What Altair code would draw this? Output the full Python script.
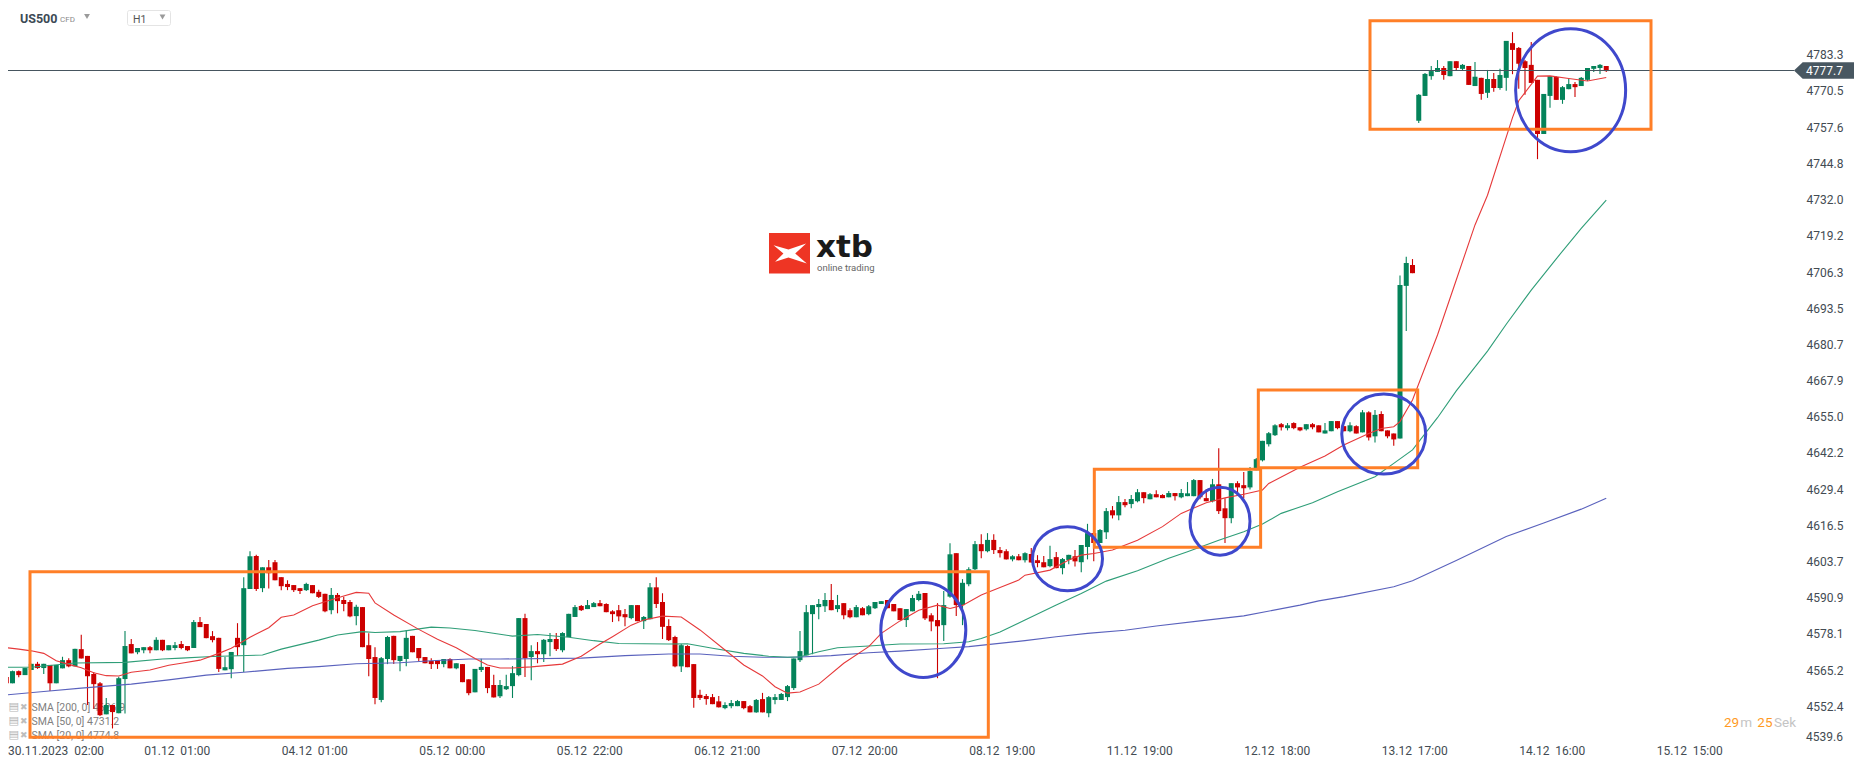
import altair as alt
import pandas as pd

# ---- candles (open, high, low, close), one list per 22-bar stretch of the H1 chart
bars_a = [
 (4562.8,4563.5,4559.9,4560.6),(4560.6,4565.1,4560.6,4564.9),(4564.9,4565.1,4562.7,4563.5),(4563.5,4566.0,4563.5,4566.0),
 (4565.3,4567.5,4565.3,4567.5),(4567.5,4568.2,4565.7,4566.0),(4566.0,4567.5,4563.9,4567.5),(4567.1,4567.1,4557.9,4560.6),
 (4560.6,4567.1,4560.6,4567.1),(4565.9,4570.0,4565.9,4568.8),(4568.8,4569.5,4566.3,4566.6),(4566.6,4572.8,4566.6,4572.8),
 (4572.7,4577.8,4569.4,4569.4),(4570.3,4570.3,4552.9,4563.1),(4563.9,4564.6,4551.6,4560.3),(4560.6,4561.1,4549.0,4549.3),
 (4549.6,4555.4,4549.6,4552.9),(4552.9,4552.9,4544.6,4550.4),(4550.0,4562.9,4550.0,4562.4),(4562.1,4579.1,4549.9,4573.8),
 (4574.5,4576.3,4571.2,4571.2),(4571.6,4573.1,4570.9,4573.1)]
bars_b = [
 (4572.3,4573.4,4571.2,4573.4),(4573.4,4573.8,4571.2,4572.3),(4572.3,4576.9,4572.3,4576.0),(4576.0,4576.0,4572.0,4572.3),
 (4572.3,4574.1,4572.3,4574.1),(4573.1,4575.2,4572.3,4574.1),(4574.5,4575.6,4572.7,4573.1),(4573.8,4573.8,4572.0,4572.3),
 (4573.1,4583.0,4573.1,4582.3),(4582.3,4584.1,4580.5,4580.5),(4581.6,4581.6,4576.6,4576.6),(4577.3,4579.1,4575.1,4575.9),
 (4576.7,4576.7,4564.6,4565.7),(4565.2,4569.9,4565.2,4566.3),(4565.6,4571.7,4562.4,4571.7),(4576.7,4581.9,4570.3,4573.4),
 (4574.1,4598.2,4564.6,4594.3),(4594.0,4607.4,4594.0,4605.6),(4605.7,4606.1,4593.3,4594.0),(4594.3,4601.7,4592.9,4601.7),
 (4601.7,4604.3,4594.2,4599.6),(4603.5,4604.3,4597.1,4597.1)]
bars_c = [
 (4598.2,4598.2,4593.6,4595.0),(4595.8,4597.1,4593.6,4594.7),(4595.4,4595.4,4592.9,4593.6),(4594.3,4594.3,4592.2,4593.3),
 (4593.6,4596.2,4593.3,4595.8),(4595.4,4595.4,4592.5,4592.5),(4593.0,4593.7,4590.8,4591.2),(4592.3,4592.3,4585.8,4586.1),
 (4586.5,4594.4,4585.1,4591.9),(4591.9,4592.6,4585.4,4589.7),(4590.1,4591.3,4586.1,4588.7),(4589.4,4590.1,4584.0,4584.3),
 (4584.4,4588.4,4581.2,4587.7),(4587.6,4587.6,4573.4,4573.4),(4574.1,4578.3,4563.1,4569.2),(4569.9,4573.4,4553.2,4555.4),
 (4554.7,4569.9,4553.9,4569.5),(4569.2,4577.4,4567.4,4577.0),(4577.4,4577.4,4567.4,4568.8),(4568.5,4570.3,4564.9,4570.3),
 (4569.2,4579.5,4566.6,4576.7),(4577.4,4577.4,4571.6,4571.6)]
bars_d = [
 (4573.1,4573.1,4568.5,4569.5),(4569.9,4569.9,4567.7,4567.7),(4568.5,4569.5,4565.7,4567.4),(4568.8,4568.8,4565.7,4567.4),
 (4567.4,4569.2,4566.3,4569.2),(4569.2,4569.5,4565.9,4565.9),(4565.9,4567.7,4565.6,4567.7),(4567.4,4567.4,4561.0,4561.0),
 (4562.0,4562.0,4556.4,4557.1),(4557.4,4565.7,4557.4,4565.7),(4565.3,4569.3,4564.6,4566.4),(4566.4,4566.4,4557.1,4558.9),
 (4560.0,4563.6,4555.6,4555.6),(4556.0,4561.8,4555.4,4560.0),(4558.5,4563.6,4558.2,4559.6),(4559.6,4566.7,4555.4,4564.2),
 (4563.5,4583.7,4563.1,4583.7),(4583.7,4585.2,4562.8,4569.5),(4569.9,4574.1,4561.7,4572.0),(4572.0,4575.2,4567.7,4570.9),
 (4570.9,4576.3,4568.1,4576.0),(4575.2,4578.4,4570.2,4576.3)]
bars_e = [
 (4576.3,4578.4,4572.0,4572.7),(4572.3,4578.7,4571.6,4578.4),(4577.0,4585.2,4577.0,4585.2),(4584.1,4588.3,4584.1,4587.6),
 (4588.0,4588.3,4586.2,4586.5),(4586.9,4590.1,4586.9,4588.3),(4587.6,4589.4,4587.6,4589.0),(4589.0,4590.1,4587.9,4587.9),
 (4588.7,4589.0,4585.8,4585.8),(4586.1,4586.5,4582.3,4585.1),(4586.5,4588.3,4582.6,4584.3),(4585.1,4586.9,4580.8,4584.0),
 (4583.7,4588.3,4583.3,4588.3),(4588.3,4588.3,4582.6,4582.6),(4582.6,4584.4,4579.8,4584.1),(4583.3,4596.1,4583.3,4594.6),
 (4594.6,4598.2,4587.3,4588.7),(4589.4,4592.5,4576.3,4580.6),(4580.9,4583.3,4575.6,4575.9),(4577.0,4577.4,4566.3,4566.6),
 (4566.6,4574.5,4564.6,4574.1),(4573.8,4574.1,4566.3,4566.3)]
bars_f = [
 (4567.4,4567.4,4551.9,4555.4),(4556.5,4558.3,4554.7,4555.4),(4556.1,4556.8,4553.0,4555.0),(4555.7,4556.8,4553.2,4553.2),
 (4554.2,4556.1,4552.0,4552.1),(4551.8,4553.9,4551.4,4552.9),(4552.5,4554.7,4551.8,4553.6),(4552.5,4554.7,4552.5,4554.3),
 (4554.3,4554.3,4551.4,4551.8),(4552.5,4552.9,4550.3,4550.3),(4550.3,4555.0,4550.2,4554.7),(4555.0,4557.2,4550.3,4550.3),
 (4550.0,4556.1,4548.6,4555.7),(4554.7,4556.8,4553.2,4555.7),(4554.7,4557.2,4554.7,4556.8),(4555.7,4560.0,4554.3,4559.6),
 (4558.9,4569.4,4558.2,4569.4),(4568.8,4579.1,4568.1,4572.0),(4570.5,4588.3,4570.5,4585.8),(4585.1,4588.3,4570.9,4588.3),
 (4587.6,4590.5,4583.3,4588.7),(4587.9,4592.6,4585.9,4590.1)]
bars_g = [
 (4590.1,4595.8,4586.5,4586.5),(4586.9,4591.9,4585.8,4588.3),(4589.0,4589.0,4583.3,4584.7),(4586.5,4587.2,4583.6,4584.0),
 (4584.0,4588.3,4584.0,4587.6),(4587.2,4587.6,4584.7,4584.7),(4585.1,4588.3,4584.7,4587.9),(4587.2,4589.4,4586.9,4589.4),
 (4588.7,4589.7,4588.7,4589.7),(4590.1,4590.1,4587.2,4587.2),(4588.7,4588.7,4586.1,4586.1),(4587.2,4587.2,4583.0,4583.0),
 (4583.0,4586.9,4580.5,4586.9),(4586.1,4591.9,4586.1,4590.8),(4590.1,4593.3,4589.7,4592.3),(4592.6,4592.6,4583.0,4583.6),
 (4584.7,4585.4,4579.0,4582.5),(4583.0,4589.0,4562.4,4580.8),(4581.2,4593.3,4575.6,4588.3),(4591.3,4610.2,4590.9,4606.3),
 (4606.7,4606.7,4584.4,4588.3),(4588.3,4597.5,4581.2,4596.2)]
bars_h = [
 (4595.7,4601.7,4595.0,4601.0),(4601.0,4611.0,4600.7,4609.9),(4609.9,4613.4,4604.9,4607.4),(4607.4,4613.8,4607.0,4611.4),
 (4611.4,4613.4,4606.4,4607.8),(4607.8,4608.9,4605.2,4606.7),(4607.4,4608.1,4604.5,4604.5),(4604.5,4606.0,4603.8,4605.6),
 (4605.6,4606.4,4604.2,4604.2),(4604.2,4607.0,4603.4,4606.7),(4606.4,4608.5,4603.4,4603.4),(4604.2,4606.0,4601.7,4603.2),
 (4603.5,4605.7,4601.7,4601.7),(4602.1,4609.3,4601.7,4604.6),(4605.3,4607.1,4601.4,4601.4),(4601.4,4605.0,4599.2,4604.6),
 (4604.3,4606.1,4602.8,4606.1),(4605.6,4607.8,4602.0,4603.8),(4603.5,4609.6,4599.9,4609.6),(4608.9,4617.1,4604.5,4613.8),
 (4613.8,4613.8,4603.8,4610.3),(4610.3,4615.3,4610.3,4614.9)]
bars_i = [
 (4614.1,4622.7,4611.7,4621.6),(4621.9,4623.4,4619.0,4620.1),(4620.1,4627.0,4618.4,4624.8),(4624.8,4625.9,4623.0,4623.7),
 (4624.1,4627.3,4622.6,4625.9),(4625.1,4629.4,4624.7,4628.3),(4628.3,4628.3,4624.4,4626.2),(4625.8,4628.0,4625.8,4627.6),
 (4627.6,4629.0,4626.5,4626.5),(4627.3,4627.6,4626.2,4626.2),(4626.5,4628.7,4626.5,4628.0),(4628.0,4628.0,4625.4,4626.9),
 (4626.5,4629.4,4626.2,4628.0),(4626.9,4631.9,4626.9,4627.9),(4626.9,4633.0,4626.9,4632.6),(4632.6,4632.6,4625.8,4626.5),
 (4626.2,4629.4,4625.1,4625.1),(4625.1,4633.0,4624.7,4631.1),(4631.1,4643.9,4620.6,4621.6),(4622.6,4626.2,4610.3,4619.1),
 (4619.1,4631.5,4617.3,4631.5),(4631.5,4632.2,4627.9,4630.0)]
bars_j = [
 (4630.8,4635.5,4626.2,4629.7),(4630.0,4637.2,4629.3,4635.8),(4636.1,4640.4,4636.1,4640.0),(4639.6,4646.5,4639.2,4646.5),
 (4645.3,4649.6,4644.5,4649.2),(4648.5,4652.4,4648.2,4652.0),(4652.4,4652.8,4650.2,4651.3),(4651.0,4652.8,4650.2,4652.0),
 (4652.8,4653.1,4650.6,4651.0),(4651.3,4651.3,4649.9,4650.2),(4650.6,4652.4,4650.2,4652.4),(4652.4,4652.8,4650.6,4651.3),
 (4652.0,4652.0,4649.5,4649.5),(4649.1,4652.8,4649.1,4650.2),(4649.9,4653.5,4649.9,4653.5),(4653.5,4653.5,4650.6,4651.0),
 (4651.7,4651.7,4649.9,4649.9),(4649.9,4653.1,4649.5,4652.0),(4651.7,4652.0,4649.1,4649.1),(4649.5,4657.4,4649.5,4656.6),
 (4656.6,4657.0,4646.6,4647.7),(4648.1,4657.4,4645.9,4655.7)]
bars_k = [
 (4656.0,4657.0,4649.9,4649.9),(4650.2,4650.2,4647.4,4648.1),(4649.1,4649.1,4644.8,4647.0),(4647.3,4705.1,4647.3,4701.7),
 (4701.4,4711.7,4685.4,4709.5),(4708.8,4710.9,4705.9,4705.9),(4759.9,4769.4,4759.1,4769.1),(4768.7,4776.8,4768.7,4776.5),
 (4775.7,4779.3,4774.4,4777.5),(4777.2,4781.4,4777.2,4778.6),(4778.6,4779.3,4774.4,4776.1),(4775.7,4781.0,4775.7,4781.0),
 (4781.0,4781.0,4777.9,4778.6),(4778.3,4780.0,4777.9,4779.7),(4779.3,4779.3,4772.6,4772.6),(4772.2,4780.7,4772.2,4775.5),
 (4775.1,4775.1,4767.3,4769.4),(4769.8,4777.9,4768.0,4774.7),(4774.7,4776.8,4770.2,4771.5),(4771.5,4778.3,4770.9,4776.1),
 (4775.1,4788.2,4770.5,4788.2),(4787.4,4791.3,4776.4,4785.0)]
bars_l = [
 (4785.7,4786.0,4771.2,4780.1),(4781.0,4781.4,4769.1,4778.6),(4779.7,4787.8,4773.3,4773.3),(4774.4,4774.4,4746.3,4755.2),
 (4755.2,4769.4,4755.2,4769.4),(4768.7,4775.7,4764.5,4775.7),(4775.4,4775.7,4767.3,4767.3),(4767.3,4772.2,4765.9,4771.8),
 (4771.1,4774.7,4771.1,4772.9),(4772.9,4773.6,4768.3,4771.8),(4772.2,4775.4,4772.2,4775.1),(4774.4,4778.6,4774.0,4778.6),
 (4778.3,4779.3,4777.2,4779.3),(4778.6,4780.0,4776.5,4779.7),(4779.3,4779.3,4777.2,4777.5)]

# ---- moving averages, read at the listed bars
sma20_bar = [0,2,4,6,8,10,12,14,16,18,20,23,26,28,31,34,36,39,42,44,46,49,51,54,56,58,59,62,66,69,72,75,77,79,81,84,89,92,95,97,100,102,105,108,111,115,118,121,123,125,127,130,134,138,140,143,146,149,151,153,156,159,162,163,167,170,172,174,177,181,185,188,192,195,198,201,202,207,211,214,218,220,222,223,225,229,232,235,237,241,242,244,245,247,250,253,256]
sma20_val = [4573.2,4572.7,4572.1,4571.2,4568.6,4567.3,4566.1,4564.3,4563.3,4563.2,4564.5,4565.3,4567.0,4567.7,4568.8,4571.2,4573.0,4576.9,4580.3,4584.0,4584.8,4588.1,4589.5,4591.5,4592.8,4592.5,4589.1,4584.8,4579.7,4576.2,4573.2,4569.4,4567.1,4566.0,4566.0,4566.4,4567.4,4570.2,4574.5,4577.1,4581.2,4583.0,4584.4,4584.1,4579.5,4572.4,4567.1,4563.2,4559.4,4557.1,4557.5,4560.3,4567.7,4573.6,4578.3,4582.7,4586.5,4588.3,4587.1,4588.2,4591.9,4594.5,4597.2,4598.9,4600.7,4604.3,4606.0,4606.6,4607.8,4611.3,4616.1,4620.8,4624.6,4626.3,4627.6,4629.1,4631.4,4637.1,4641.1,4645.0,4649.1,4650.9,4651.5,4653.3,4661.0,4684.0,4703.5,4723.0,4733.5,4761.0,4767.0,4772.8,4775.7,4775.8,4774.9,4774.0,4775.2]
sma50_bar = [0,4,11,19,25,28,33,41,44,50,53,57,59,63,68,71,75,79,81,85,90,94,98,106,109,113,118,122,125,127,130,133,138,143,150,154,156,159,163,168,172,176,181,186,189,194,198,201,204,209,213,219,222,225,229,232,237,240,244,248,252,256]
sma50_val = [4566.3,4566.3,4567.8,4568.0,4569.2,4569.5,4570.1,4570.6,4572.7,4575.9,4577.7,4578.9,4578.6,4578.9,4580.5,4580.2,4579.3,4578.0,4577.3,4577.9,4576.9,4575.7,4574.7,4574.5,4574.6,4573.0,4571.2,4570.2,4569.8,4570.0,4571.8,4573.2,4573.8,4574.5,4574.6,4575.3,4576.5,4578.8,4583.0,4588.3,4592.4,4596.8,4600.5,4604.9,4607.2,4611.3,4614.3,4617.0,4620.8,4624.6,4628.5,4633.8,4638.5,4643.3,4654.7,4664.2,4678.3,4687.8,4699.9,4711.0,4721.8,4731.8]
sma200_bar = [0,6,12,20,26,32,38,45,50,56,63,68,74,79,92,99,106,111,116,121,126,132,138,143,150,154,157,163,168,173,179,184,191,198,207,210,214,222,225,232,240,246,252,256]
sma200_val = [4556.5,4557.7,4558.9,4560.3,4561.8,4563.5,4564.5,4565.9,4566.5,4567.5,4567.9,4568.6,4569.2,4569.2,4569.5,4570.4,4571.0,4571.0,4570.2,4569.8,4569.8,4570.4,4571.4,4572.0,4573.0,4573.6,4574.3,4575.7,4577.1,4578.3,4579.4,4580.9,4582.7,4584.5,4588.3,4589.8,4591.3,4594.8,4596.9,4604.1,4612.6,4617.4,4622.3,4626.2]

# ---- price axis, time axis
price_ticks = [4783.3,4770.5,4757.6,4744.8,4732.0,4719.2,4706.3,4693.5,4680.7,4667.9,4655.0,4642.2,4629.4,4616.5,4603.7,4590.9,4578.1,4565.2,4552.4]
price_bottom = 4539.6
last_price = 4777.7
time_ticks = [22,44,66,88,110,132,154,176,198,220,242,264]
NB = "\u00a0\u00a0"
time_labels = ["01.12","04.12","05.12","05.12","06.12","07.12","08.12","11.12","12.12","13.12","14.12","15.12"]
time_hours = ["01:00","01:00","00:00","22:00","21:00","20:00","19:00","19:00","18:00","17:00","16:00","15:00"]

# ---- drawn annotations, in bars and price
box_x0 = [3.8,174.09,200.33,218.2]
box_x1 = [157.13,200.7,225.83,263.16]
box_top = [4600.1,4636.4,4664.5,4795.35]
box_bot = [4541.45,4608.8,4637.0,4756.9]
ring_bar = [146.73,169.8,194.2,220.4,250.3]
ring_price = [4579.5,4604.7,4618.0,4648.9,4770.7]
ring_w = [85,70,60,84,110]
ring_h = [95,64,68,80,123]

bars = bars_a+bars_b+bars_c+bars_d+bars_e+bars_f+bars_g+bars_h+bars_i+bars_j+bars_k+bars_l
df = pd.DataFrame(bars, columns=["o","h","l","c"])
df["i"] = range(len(df))
df["dir"] = ["up" if c >= o else "down" for o, c in zip(df.o, df.c)]

GREEN, RED = "#04835a", "#cc0000"
ORANGE, RING = "#ff7f27", "#3f48cc"
INK = "#434b52"
FONT = "Roboto"

xs = alt.Scale(domain=[0.28,286.04], nice=False, zero=False, padding=0)
ys = alt.Scale(domain=[4539.8,4799.85], nice=False, zero=False, padding=0)
cs = alt.Scale(domain=["up","down"], range=[GREEN,RED])

lbl = [f"{a}{NB}{b}" for a,b in zip(time_labels,time_hours)]
expr = "{" + ",".join(f'"{v}":"{t}"' for v,t in zip(time_ticks,lbl)) + "}[datum.value]"
x_axis = alt.Axis(values=time_ticks, labelExpr=expr, labelAlign="left", labelBaseline="top",
                  labelPadding=3, domain=False, ticks=False, grid=False, title=None,
                  labelFont=FONT, labelFontSize=12, labelColor=INK, labelOverlap=False, labelFlush=False, labelBound=False)
y_axis = alt.Axis(orient="right", values=price_ticks, format=".1f", labelAlign="left", labelPadding=12,
                  domain=False, ticks=False, grid=False, title=None,
                  labelFont=FONT, labelFontSize=12, labelColor=INK, labelOverlap=False, labelFlush=False, labelBound=False)
X = lambda f="i": alt.X(f"{f}:Q", scale=xs, axis=x_axis, title=None)
Y = lambda f: alt.Y(f"{f}:Q", scale=ys, axis=y_axis, title=None)

base = alt.Chart(df)
wicks = base.mark_rule(strokeWidth=1.1).encode(
    x=X(), y=Y("l"), y2="h:Q", color=alt.Color("dir:N", scale=cs, legend=None))
bodies = base.mark_bar(size=5, cornerRadius=0).encode(
    x=X(), y=Y("o"), y2="c:Q", color=alt.Color("dir:N", scale=cs, legend=None))

def sma(bar, val, color):
    d = pd.DataFrame({"i":bar,"v":val})
    return alt.Chart(d).mark_line(color=color, strokeWidth=1.1, interpolate="linear").encode(x=X(), y=Y("v"))
lines = [sma(sma200_bar,sma200_val,"#5a62bd"), sma(sma50_bar,sma50_val,"#2f9e78"), sma(sma20_bar,sma20_val,"#e6393a")]

price_line = alt.Chart(pd.DataFrame({"p":[last_price]})).mark_rule(color="#46555f", strokeWidth=1.2).encode(y=Y("p"))

boxes = alt.Chart(pd.DataFrame({"a":box_x0,"b":box_x1,"t":box_top,"u":box_bot})).mark_rect(
    fillOpacity=0, stroke=ORANGE, strokeWidth=3).encode(x=X("a"), x2="b:Q", y=Y("t"), y2="u:Q")

def ring_path(w,h):
    s=max(w,h); rx=w/s; ry=h/s
    return f"M{-rx},0 A{rx},{ry} 0 1,1 {rx},0 A{rx},{ry} 0 1,1 {-rx},0 Z"
rings = alt.Chart(pd.DataFrame({"i":ring_bar,"p":ring_price,
        "size":[max(w,h)**2 for w,h in zip(ring_w,ring_h)],
        "path":[ring_path(w,h) for w,h in zip(ring_w,ring_h)]})).mark_point(
    filled=False, stroke=RING, strokeWidth=3, opacity=1).encode(
    x=X(), y=Y("p"), size=alt.Size("size:Q", scale=None, legend=None),
    shape=alt.Shape("path:N", scale=None, legend=None))

one = alt.Data(values=[{}])
def txt(s, x, y, size=12, color=INK, weight="normal", align="left", font=FONT, opacity=1):
    return alt.Chart(one).mark_text(text=s, fontSize=size, color=color, fontWeight=weight, align=align,
        baseline="middle", font=font, opacity=opacity).encode(x=alt.value(x-8), y=alt.value(y-8))
def box(x0,x1,y0,y1,fill,stroke=None,**k):
    kw=dict(fill=fill, **k)
    if stroke: kw["stroke"]=stroke
    return alt.Chart(one).mark_rect(**kw).encode(x=alt.value(x0-8),x2=alt.value(x1-8),y=alt.value(y0-8),y2=alt.value(y1-8))
def tri(x,y,size=34,color="#9a9a9a"):
    return alt.Chart(one).mark_point(shape="triangle-down",filled=True,size=size,color=color,opacity=1).encode(x=alt.value(x-8),y=alt.value(y-8))

header = [txt("US500",20,19,12.5,"#3c4a55","bold"), txt("CFD",60,19.5,8,"#8a8a8a"), tri(87,16.5),
          box(127.5,170.5,10.5,25.5,"#ffffff","#e4e4e4",strokeWidth=1,cornerRadius=2),
          txt("H1",133,20,10.5,"#555555"), tri(162.5,17)]

logo_path = "M-0.92,-0.48 L-0.06,-0.23 L0.96,-0.58 L0.33,0 L1,0.58 L-0.06,0.23 L-0.83,0.48 L-0.35,0 Z"
logo = [box(769,810,233,273.5,"#ee3524"),
        alt.Chart(one).mark_point(shape=logo_path,filled=True,color="#ffffff",size=1200,opacity=1,strokeWidth=0).encode(x=alt.value(789.5-8),y=alt.value(253.5-8)),
        txt("xtb",816,248,31,"#1a1a1a","bold",font="DejaVu Sans"),
        txt("online trading",817,268,9.5,"#666666")]

legend = []
for y,s in zip([707.5,721.5,735.5],["SMA [200, 0] 4626.9","SMA [50, 0] 4731.2","SMA [20, 0] 4774.8"]):
    legend += [txt("\u25a4",8.5,y-1,11,"#b5b5b5",font="DejaVu Sans"), txt("\u2716",20,y-1,9,"#bdbdbd",font="DejaVu Sans"),
               txt(s,31.5,y,10.5,"#808080")]

tag_path = "M-1,0 L-0.71,-0.278 L1,-0.278 L1,0.278 L-0.71,0.278 Z"
tag = alt.Chart(pd.DataFrame({"p":[last_price]})).mark_point(shape=tag_path,filled=True,color="#485761",size=3600,opacity=1,strokeWidth=0).encode(
    x=alt.value(1824-8), y=Y("p"))
tag_text = alt.Chart(pd.DataFrame({"p":[last_price],"t":[f"{last_price:.1f}"]})).mark_text(
    align="left",baseline="middle",font=FONT,fontSize=12,color="#ffffff").encode(x=alt.value(1806-8), y=Y("p"), text="t:N")
bottom_tick = alt.Chart(pd.DataFrame({"p":[price_bottom],"t":[f"{price_bottom:.1f}"]})).mark_text(
    align="left",baseline="middle",font=FONT,fontSize=12,color=INK,dy=-5.3).encode(x=alt.value(1806-8), y=Y("p"), text="t:N")
first_time = txt(f"30.11.2023{NB}02:00",8,750.7,12,INK)

timer = [txt("29",1724,722.5,13.5,"#ff9a1f"), txt("m",1740.3,722.5,13.5,"#c4c4c4"),
         txt("25",1757.3,722.5,13.5,"#ff9a1f"), txt("Sek",1774,722.5,13.5,"#c4c4c4")]

chart = alt.layer(
    *legend, wicks, bodies, *lines, price_line, boxes, rings, tag, tag_text, bottom_tick, first_time, *header, *logo, *timer
).resolve_scale(color="shared").properties(
    width=1786, height=734,
    padding={"left":0,"top":0,"right":64,"bottom":15},
    autosize=alt.AutoSizeParams(type="none", contains="content"),
    background="white"
).configure_view(stroke=None)

chart.save("out.html", embed_options={"renderer": "svg", "actions": False})
